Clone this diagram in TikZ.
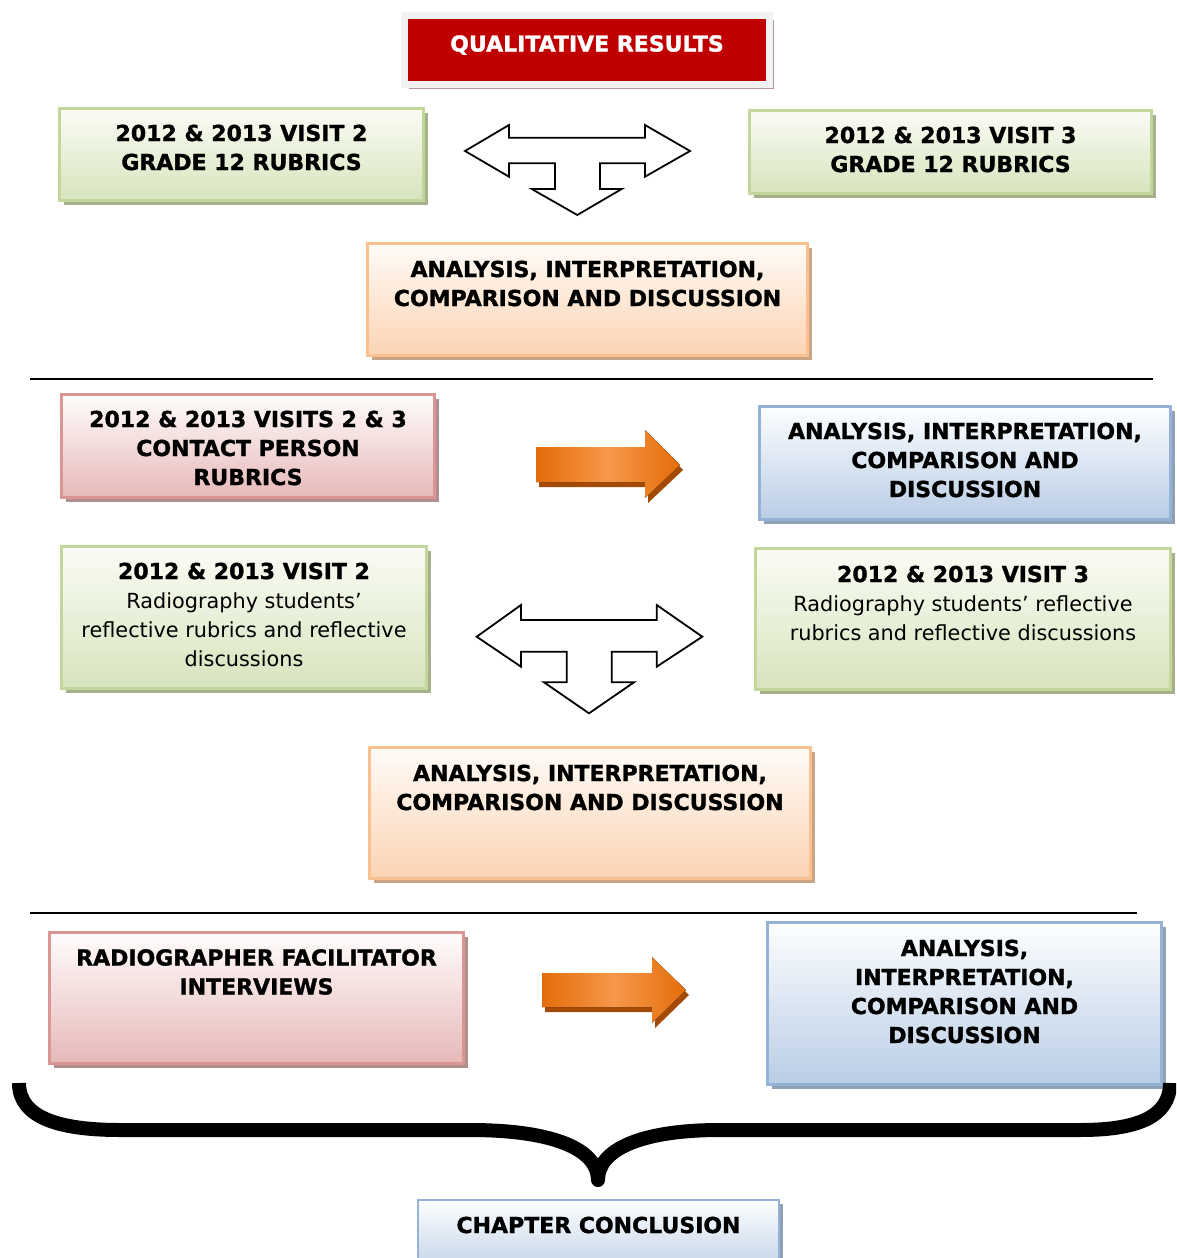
\documentclass[tikz,border=0pt]{standalone}
\usepackage{fontspec}
\setmainfont{DejaVu Sans}[BoldFeatures={FakeBold=1.3}]
\usetikzlibrary{shadows}

\definecolor{titlered}{HTML}{C00000}
\definecolor{titleframe}{HTML}{F2F2F2}
\definecolor{titleshadow}{HTML}{B59A9A}
\definecolor{gborder}{HTML}{C3D69B}
\definecolor{gbottom}{HTML}{D7E4BD}
\definecolor{gtop}{HTML}{FAFCF5}
\definecolor{gshadow}{HTML}{A6B18C}
\definecolor{oborder}{HTML}{FAC090}
\definecolor{obottom}{HTML}{FBD4B4}
\definecolor{otop}{HTML}{FFFBF7}
\definecolor{oshadow}{HTML}{C9A485}
\definecolor{pborder}{HTML}{D99694}
\definecolor{pbottom}{HTML}{E6B9B8}
\definecolor{ptop}{HTML}{FFFCFC}
\definecolor{pshadow}{HTML}{B08F8F}
\definecolor{bborder}{HTML}{95B3D7}
\definecolor{bbottom}{HTML}{B9CDE5}
\definecolor{btop}{HTML}{FDFEFF}
\definecolor{bshadow}{HTML}{8FA1B5}
\definecolor{arrowdark}{HTML}{E36C0A}
\definecolor{arrowlight}{HTML}{F7984A}
\definecolor{arrowshadow}{HTML}{A24A06}

\tikzset{
  box/.style={rectangle, line width=2.5pt, inner sep=0pt},
  greenbox/.style={box, draw=gborder, top color=gtop, bottom color=gbottom,
    general shadow={fill=gshadow, shadow xshift=4pt, shadow yshift=-4pt}},
  orangebox/.style={box, draw=oborder, top color=otop, bottom color=obottom,
    general shadow={fill=oshadow, shadow xshift=4pt, shadow yshift=-4pt}},
  pinkbox/.style={box, draw=pborder, top color=ptop, bottom color=pbottom,
    general shadow={fill=pshadow, shadow xshift=4pt, shadow yshift=-4pt}},
  bluebox/.style={box, draw=bborder, top color=btop, bottom color=bbottom,
    general shadow={fill=bshadow, shadow xshift=4pt, shadow yshift=-4pt}},
  titlebox/.style={rectangle, line width=7pt, draw=titleframe, fill=titlered, inner sep=0pt,
    general shadow={fill=titleshadow, shadow xshift=4pt, shadow yshift=-4pt}},
  boldtxt/.style={align=center, inner sep=0pt, font=\bfseries\fontsize{22}{29}\selectfont},
  mixtxt/.style={align=center, inner sep=0pt, font=\fontsize{20.8}{29}\selectfont},
  outlinearrow/.style={draw=black, fill=white, line width=1.8pt, line join=miter},
  blockarrow/.style={left color=arrowdark, right color=arrowdark, middle color=arrowlight},
  blockshadow/.style={fill=arrowshadow},
  separator/.style={draw=black, line width=1.6pt},
  brace/.style={draw=black, line width=14pt, line join=round, line cap=butt}
}

\newcommand{\bhead}[1]{{\bfseries\fontsize{22}{29}\selectfont #1}}

\begin{document}
\begin{tikzpicture}[x=1pt, y=-1pt]
\clip (0,0) rectangle (1176,1258);

% ---- title ----
\node[titlebox, minimum width=365pt, minimum height=69pt] (title) at (587,50) {};
\node[boldtxt, text=white] (titletxt) at (587,45) {QUALITATIVE RESULTS};

% ---- section 1: grade 12 rubrics ----
\node[greenbox, minimum width=364pt, minimum height=92pt] (g1) at (241.5,154.5) {};
\node[boldtxt] (g1t) at (241.5,147.5) {2012 \& 2013 VISIT 2\\GRADE 12 RUBRICS};

\node[greenbox, minimum width=402pt, minimum height=83pt] (g2) at (950.5,152) {};
\node[boldtxt] (g2t) at (950.5,149.5) {2012 \& 2013 VISIT 3\\GRADE 12 RUBRICS};

\draw[outlinearrow] (465,151) -- (509,125) -- (509,137.7) -- (645,137.7) -- (645,125)
  -- (690,151) -- (645,176.7) -- (645,163.3) -- (600,163.3) -- (600,189) -- (621.7,189)
  -- (577.3,215) -- (531.7,189) -- (555,189) -- (555,163.3) -- (509,163.3) -- (509,176.7)
  -- cycle;

\node[orangebox, minimum width=440pt, minimum height=112pt] (o1) at (587.5,299.5) {};
\node[boldtxt] (o1t) at (587.5,283.5) {ANALYSIS, INTERPRETATION,\\COMPARISON AND DISCUSSION};

\coordinate (sep1a) at (30,379);
\coordinate (sep1b) at (1153,379);
\draw[separator] (sep1a) -- (sep1b);

% ---- section 2: contact person rubrics ----
\node[pinkbox, minimum width=373pt, minimum height=103pt] (p1) at (248,446) {};
\node[boldtxt] (p1t) at (248,448) {2012 \& 2013 VISITS 2 \& 3\\CONTACT PERSON\\RUBRICS};

\fill[blockshadow] (539,452) -- (648,452) -- (648,435) -- (683,470) -- (648,503) -- (648,487)
  -- (539,487) -- cycle;
\fill[blockarrow] (536,447) -- (645,447) -- (645,430) -- (680,465) -- (645,498) -- (645,482)
  -- (536,482) -- cycle;

\node[bluebox, minimum width=411pt, minimum height=113pt] (b1) at (965,463) {};
\node[boldtxt] (b1t) at (965,460) {ANALYSIS, INTERPRETATION,\\COMPARISON AND\\DISCUSSION};

% ---- section 3: students' reflective rubrics ----
\node[greenbox, minimum width=365pt, minimum height=142pt] (g3) at (244,617.5) {};
\node[mixtxt] (g3t) at (244,614.5) {\bhead{2012 \& 2013 VISIT 2}\\Radiography students’\\reflective rubrics and reflective\\discussions};

\node[greenbox, minimum width=415pt, minimum height=141pt] (g4) at (963,619) {};
\node[mixtxt] (g4t) at (963,603) {\bhead{2012 \& 2013 VISIT 3}\\Radiography students’ reflective\\rubrics and reflective discussions};

\draw[outlinearrow] (476.7,636.7) -- (521,605) -- (521,620) -- (656.7,620) -- (656.7,605)
  -- (702.3,636.7) -- (656.7,666.7) -- (656.7,651.7) -- (611.7,651.7) -- (611.7,682.3)
  -- (634,682.3) -- (589,713.3) -- (544,682.3) -- (566.7,682.3) -- (566.7,651.7)
  -- (521,651.7) -- (521,666.7) -- cycle;

\node[orangebox, minimum width=441pt, minimum height=131pt] (o2) at (590,813) {};
\node[boldtxt] (o2t) at (590,787.5) {ANALYSIS, INTERPRETATION,\\COMPARISON AND DISCUSSION};

\coordinate (sep2a) at (30,913);
\coordinate (sep2b) at (1137,913);
\draw[separator] (sep2a) -- (sep2b);

% ---- section 4: facilitator interviews ----
\node[pinkbox, minimum width=414pt, minimum height=131pt] (p2) at (256.5,998) {};
\node[boldtxt] (p2t) at (256.5,972) {RADIOGRAPHER FACILITATOR\\INTERVIEWS};

\fill[blockshadow] (545,978) -- (655,978) -- (655,962) -- (689,995) -- (655,1028) -- (655,1012)
  -- (545,1012) -- cycle;
\fill[blockarrow] (542,973) -- (652,973) -- (652,957) -- (686,990) -- (652,1023) -- (652,1007)
  -- (542,1007) -- cycle;

\node[bluebox, minimum width=394pt, minimum height=162pt] (b2) at (964.5,1003.5) {};
\node[boldtxt] (b2t) at (964.5,991.5) {ANALYSIS,\\INTERPRETATION,\\COMPARISON AND\\DISCUSSION};

% ---- brace and conclusion ----
\draw[brace] (19,1083) .. controls (19,1118) and (60,1130) .. (120,1130) -- (470,1130)
  .. controls (555,1130) and (598,1150) .. (598,1180)
  .. controls (598,1150) and (640,1130) .. (720,1130) -- (1080,1130)
  .. controls (1135,1130) and (1170,1118) .. (1170,1083);

\node[bluebox, minimum width=361pt, minimum height=80pt] (cc) at (598.5,1240) {};
\node[boldtxt] (cct) at (598.5,1225) {CHAPTER CONCLUSION};
\end{tikzpicture}
\end{document}
